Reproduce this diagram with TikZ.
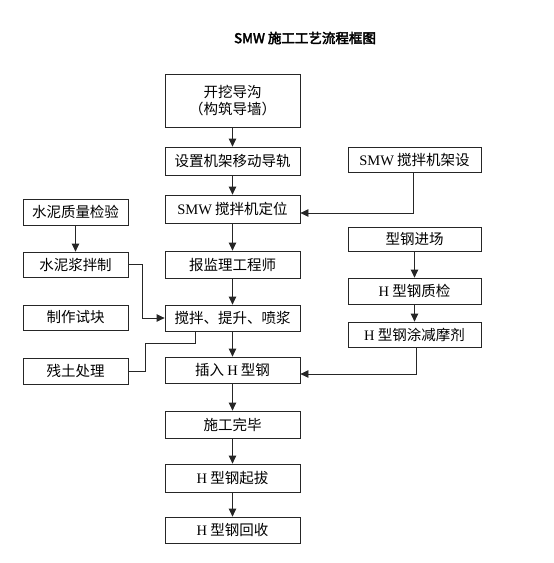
\documentclass[tikz,border=0pt]{standalone}
\usepackage{fontspec}
\setmainfont{Liberation Serif}
\newfontfamily\cjk{Noto Sans CJK SC}[AutoFakeBold=3]
\usetikzlibrary{arrows.meta}
\tikzset{
  box/.style={draw=black!85, line width=0.8pt, minimum width=135pt, minimum height=27pt, inner sep=0pt, font=\cjk\fontsize{14.5}{17}\selectfont, align=center},
  sidebox/.style={box, minimum width=105pt, minimum height=26pt},
  rbox/.style={box, minimum width=133pt, minimum height=25pt},
  conn/.style={draw=black!85, line width=0.8pt},
  arr/.style={conn, -{Triangle[length=8pt,width=7.5pt]}}
}
\newcommand{\lat}[1]{{\rmfamily #1}}
\begin{document}
\begin{tikzpicture}[x=1pt,y=-1pt]
\useasboundingbox (0,0) rectangle (554,563);
% title
\node[font=\cjk\bfseries\fontsize{13.5}{16}\selectfont] (title) at (305,38) {SMW 施工工艺流程框图};
% main column
\node[box, minimum height=53pt] (b1) at (232.5,100.5) {开挖导沟\\（构筑导墙）};
\node[box, minimum height=28pt] (b2) at (232.5,161) {设置机架移动导轨};
\node[box, minimum height=28pt] (b3) at (232.5,209) {\lat{SMW} 搅拌机定位};
\node[box] (b4) at (232.5,264.5) {报监理工程师};
\node[box, minimum height=26pt] (b5) at (232.5,318) {搅拌、提升、喷浆};
\node[box, minimum height=26pt] (b6) at (232.5,370) {插入 \lat{H} 型钢};
\node[box] (b7) at (232.5,424.5) {施工完毕};
\node[box, minimum height=28pt] (b8) at (232.5,478) {\lat{H} 型钢起拔};
\node[box, minimum height=26pt] (b9) at (232.5,530) {\lat{H} 型钢回收};
% left column
\node[sidebox] (l1) at (75.5,212) {水泥质量检验};
\node[sidebox, minimum height=25pt] (l2) at (75.5,264.5) {水泥浆拌制};
\node[sidebox, minimum height=25pt] (l3) at (75.5,317.5) {制作试块};
\node[sidebox] (l4) at (75.5,371) {残土处理};
% right column
\node[rbox] (r1) at (414.5,159.5) {\lat{SMW} 搅拌机架设};
\node[rbox, minimum height=24pt] (r2) at (414.5,239) {型钢进场};
\node[rbox, minimum height=26pt] (r3) at (414.5,291) {\lat{H} 型钢质检};
\node[rbox] (r4) at (414.5,334.5) {\lat{H} 型钢涂减摩剂};
% coordinates
\coordinate (c1) at (413,213);
\coordinate (c2) at (416,374);
\coordinate (c3) at (142,264.5);
\coordinate (c4) at (142,318);
\coordinate (c5) at (195,343);
\coordinate (c6) at (145,343);
\coordinate (c7) at (145,371);
% main arrows
\draw[arr] (b1) -- (b2);
\draw[arr] (b2) -- (b3);
\draw[arr] (b3) -- (b4);
\draw[arr] (b4) -- (b5);
\draw[arr] (b5) -- (b6);
\draw[arr] (b6) -- (b7);
\draw[arr] (b7) -- (b8);
\draw[arr] (b8) -- (b9);
% left
\draw[arr] (l1) -- (l2);
\draw[arr] (l2.east) -- (c3) -- (c4) -- (b5.west);
\draw[conn] (b5.south -| c5) -- (c5) -- (c6) -- (c7) -- (l4.east);
% right
\draw[arr] (r2) -- (r3);
\draw[arr] (r3) -- (r4);
\draw[arr] (r1.south -| c1) -- (c1) -- (b3.east |- c1);
\draw[arr] (r4.south -| c2) -- (c2) -- (b6.east |- c2);
\end{tikzpicture}
\end{document}
